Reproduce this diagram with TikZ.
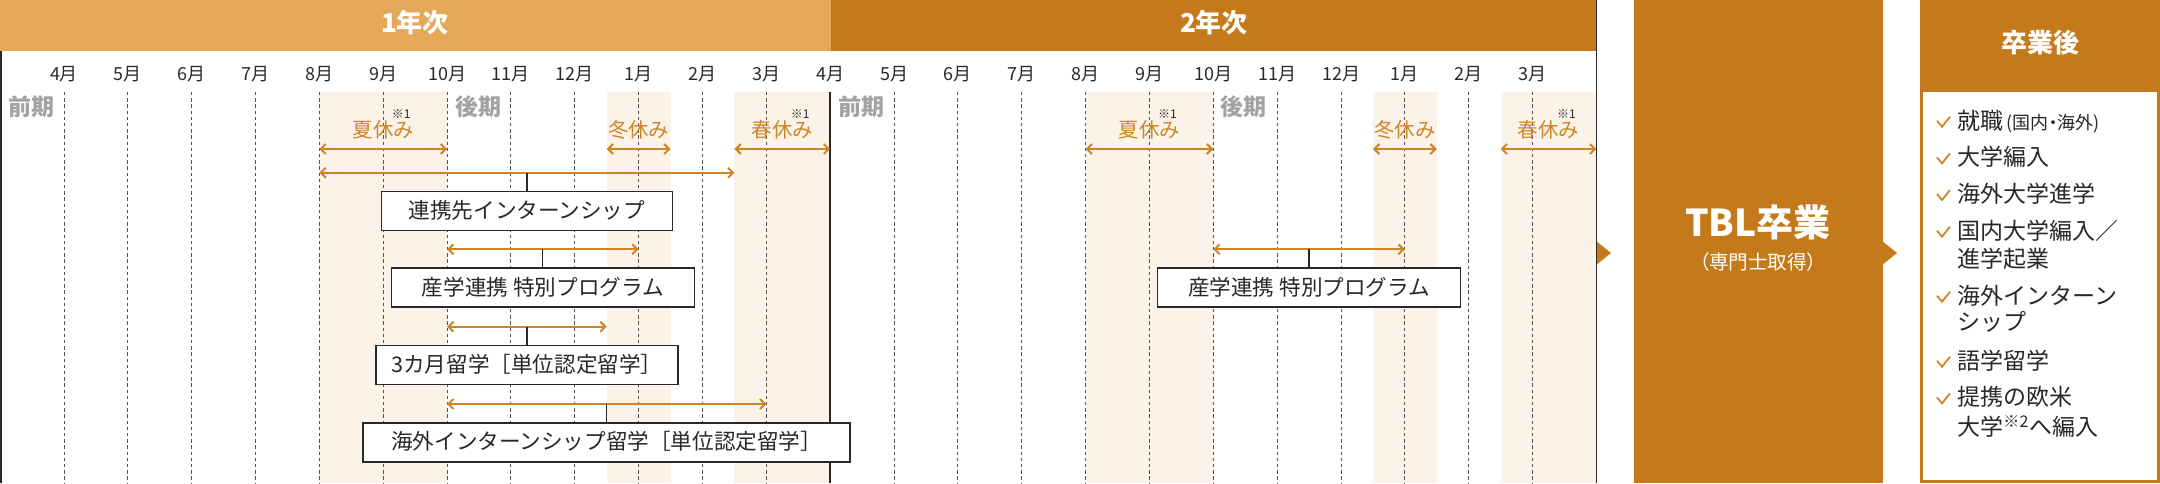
\documentclass[tikz,border=0pt]{standalone}
\usepackage{fontspec}
\usepackage{xcolor}
\usepackage{tikz}
\usetikzlibrary{arrows.meta}

\setmainfont{Noto Sans CJK JP}
\newfontfamily\paltfont{Noto Sans CJK JP}[RawFeature=+palt]

\definecolor{lightorange}{HTML}{E4A859}
\definecolor{darkorange}{HTML}{C47A1B}
\definecolor{lineorange}{HTML}{CE8527}
\definecolor{cream}{HTML}{FBF3E7}
\definecolor{termgray}{HTML}{A3A3A3}
\definecolor{ink}{HTML}{2B2727}

\tikzset{
  txt/.style={inner sep=0pt, text height=0.88em, text depth=0.12em},
  headtext/.style={txt, text=white, font=\fontsize{13}{13}\selectfont\bfseries},
  monthtext/.style={txt, text=ink, font=\fontsize{9}{9}\selectfont},
  termtext/.style={txt, anchor=west, text=termgray, font=\fontsize{11.5}{12}\selectfont\bfseries},
  holtext/.style={txt, text=lineorange, font=\fontsize{10.2}{10}\selectfont},
  notetext/.style={txt, text=ink, font=\fontsize{6}{6}\selectfont},
  progbox/.style={draw=ink, line width=0.75pt, fill=white, anchor=north, minimum height=19.5pt,
    inner sep=0pt, text height=0.88em, text depth=0.12em, text=ink, font=\fontsize{10.8}{11}\selectfont},
  span/.style={draw=lineorange, line width=1pt, <->, >={Straight Barb[length=2.5pt,width=5pt]}},
  stem/.style={draw=ink, line width=0.6pt},
  gridline/.style={draw=ink!80, line width=0.5pt, dash pattern=on 1.7pt off 1.4pt},
  yearline/.style={draw=ink, line width=0.75pt},
  listtext/.style={txt, anchor=west, text=ink, font=\fontsize{11.5}{12}\selectfont},
  chk/.style={draw=lineorange, line width=0.9pt},
}

\begin{document}
\begin{tikzpicture}[x=0.5pt, y=-0.5pt]
    \useasboundingbox (0,0) rectangle (2160,483);

    % year headers
    \fill[lightorange] (0,0) rectangle (831,51);
    \fill[darkorange] (831,0) rectangle (1597,51);
    \node[headtext] (y1) at (415,25) {1年次};
    \node[headtext] (y2) at (1214,25) {2年次};

    % holiday bands
    \foreach \a/\b in {4/6, 8.5/9.5, 10.5/12, 16/18, 20.5/21.5, 22.5/24}{
        \fill[cream] (64+63.85*\a,92) rectangle (64+63.85*\b,483);
    }

    % months
    \foreach \m in {0,...,23}{
        \pgfmathtruncatemacro\monthno{mod(\m+3,12)+1}
        \node[monthtext] (mo\m) at (64+63.85*\m,73) {\monthno{}月};
        \ifnum\m=12 \else
            \draw[gridline] (64+63.85*\m,92) -- (64+63.85*\m,483);
        \fi
    }
    \draw[yearline] (1,51) -- (1,483);
    \draw[yearline] (830,92) -- (830,483);
    \draw[yearline] (1596.5,0) -- (1596.5,483);

    \foreach \x/\t [count=\i] in {8/前期, 455/後期, 838/前期, 1220/後期}{
        \node[termtext] (t\i) at (\x,108) {\t};
    }

    \foreach \a/\b/\t/\n [count=\i] in {4/6/夏休み/1, 8.5/9.5/冬休み/0, 10.5/12/春休み/1, 16/18/夏休み/1, 20.5/21.5/冬休み/0, 22.5/24/春休み/1}{
        \node[holtext] (h\i) at ({64+63.85*(\a+\b)/2},130) {\t};
        \ifnum\n=1 \node[notetext] (n\i) at ({82+63.85*(\a+\b)/2},111) {※1}; \fi
        \coordinate (hl\i) at (64+63.85*\a,149);
        \coordinate (hr\i) at (64+63.85*\b,149);
        \draw[span] (hl\i) -- (hr\i);
    }

    % programs
    \foreach \a/\b/\y/\w/\t [count=\i] in {4/10.5/172.7/291/連携先インターンシップ, 6/9/249.3/303/産学連携 特別プログラム, 6/8.5/326.7/302/3カ月留学［単位認定留学］, 6/11/404/487/海外インターンシップ留学［単位認定留学］, 18/21/249.3/303/産学連携 特別プログラム}{
        \coordinate (pl\i) at (64+63.85*\a,\y);
        \coordinate (pr\i) at (64+63.85*\b,\y);
        \node[progbox, minimum width=\w*0.5pt] (p\i) at ({64+63.85*(\a+\b)/2},\y+18) {\t};
        \draw[span] (pl\i) -- (pr\i);
        \draw[stem] (p\i.north) -- (p\i.north |- pl\i);
    }

    % graduation
    \fill[darkorange] (1597,241.7) -- (1611,253) -- (1597,264.3) -- cycle;
    \fill[darkorange] (1634,0) rectangle (1883,483);
    \fill[darkorange] (1883,241.7) -- (1897,253) -- (1883,264.3) -- cycle;
    \node[txt, text=white, font=\fontsize{18.5}{18}\selectfont\bfseries] (tbl) at (1758,229) {TBL卒業};
    \node[txt, text=white, font=\fontsize{9.8}{10}\selectfont\paltfont] (tblsub) at (1758,262) {（専門士取得）};

    % after graduation
    \fill[darkorange] (1920,0) rectangle (2160,483);
    \fill[white] (1923,92) rectangle (2157,480);
    \node[headtext] (after) at (2040,45) {卒業後};
    \foreach \y/\t/\c [count=\i] in {121.7/就職{\paltfont\fontsize{9}{9}\selectfont\,(国内・海外)}/1, 158.3/大学編入/1, 195/海外大学進学/1, 231.7/国内大学編入／/1, 260/進学起業/0, 296.7/海外インターン/1, 323/シップ/0, 361.7/語学留学/1, 398.3/提携の欧米/1, 428.3/大学\textsuperscript{※2}へ編入/0}{
        \node[listtext] (l\i) at (1957,\y) {\t};
        \ifnum\c=1 \draw[chk] (1937,\y-1) -- (1942,\y+5) -- (1950,\y-5); \fi
    }
\end{tikzpicture}
\end{document}
